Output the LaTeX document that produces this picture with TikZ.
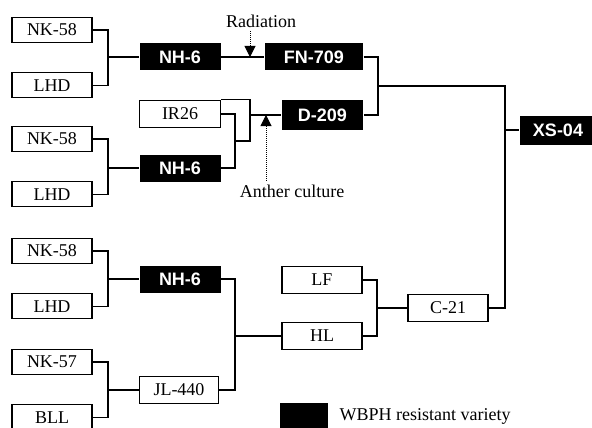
\documentclass[tikz,border=0pt]{standalone}
\usepackage{fontspec}
\setmainfont{Liberation Serif}
\newfontfamily\boxfont{Liberation Sans}
\usepackage{tikz}
\usetikzlibrary{arrows.meta, positioning, calc}

\begin{document}
\begin{tikzpicture}[x=1pt, y=-1pt, font=\fontsize{18}{20}\selectfont, node distance=29pt, line width=1.3pt,
  plain/.style={draw, fill=white, minimum width=80pt, minimum height=25pt, inner sep=0pt},
  resist/.style={fill=black, text=white, minimum width=81pt, minimum height=27pt, inner sep=0pt,
    font=\boxfont\bfseries\fontsize{18}{20}\selectfont},
  treat/.style={densely dotted, line width=1pt, -{Triangle[width=11pt,length=11pt]}}]
\useasboundingbox (0,0) rectangle (592,428);
% parents
\node[plain] (nkA) at (52,30) {NK-58};
\node[plain, below=of nkA] (lhdA) {LHD};
\node[plain] (nkB) at (52,139) {NK-58};
\node[plain, below=of nkB] (lhdB) {LHD};
\node[plain] (nkC) at (52,251) {NK-58};
\node[plain, below=of nkC] (lhdC) {LHD};
\node[plain] (nkD) at (52,362) {NK-57};
\node[plain, below=of nkD] (bll) {BLL};
% first crosses
\node[resist] (nhA) at (180,57) {NH-6};
\node[plain, minimum width=81pt, minimum height=27pt] (ir) at (180,114) {IR26};
\node[resist] (nhB) at (180,168) {NH-6};
\node[resist] (nhC) at (180,279) {NH-6};
\node[plain, minimum width=79pt, minimum height=27pt] (jl) at (179,390) {JL-440};
% derived lines
\node[resist, minimum width=98pt] (fn) at (314,57) {FN-709};
\node[resist, minimum height=29pt] (dd) at (322.5,115) {D-209};
\node[plain, minimum height=27pt] (lf) at (322,280) {LF};
\node[plain, minimum height=27pt] (hl) at (322,336) {HL};
\node[plain, minimum height=27pt] (cc) at (448,308) {C-21};
\node[resist, minimum width=76pt, minimum height=29pt] (xs) at (558,130) {XS-04};
% treatments
\node (rad) at (261,21) {Radiation};
\node (anther) at (292,191) {Anther culture};
\coordinate (rtip) at (250,57);
\coordinate (atip) at (266,115);
% legend
\node[resist, minimum width=48pt, minimum height=27pt] (key) at (304,416) {};
\node[right=7pt of key] (keytext) {WBPH resistant variety};

\coordinate (jA) at (108,57);
\coordinate (jB) at (108,168);
\coordinate (jC) at (108,279);
\coordinate (jD) at (108,390);
\coordinate (jE) at (235,141);
\coordinate (kE) at (250,141);
\coordinate (jF) at (235,336);
\coordinate (jG) at (377,308);
\coordinate (jH) at (378,86);
\coordinate (jX) at (505,130);

\draw (nkA.east) -| (jA) |- (lhdA.east);
\draw (jA) -- (nhA.west);
\draw (nkB.east) -| (jB) |- (lhdB.east);
\draw (jB) -- (nhB.west);
\draw (nkC.east) -| (jC) |- (lhdC.east);
\draw (jC) -- (nhC.west);
\draw (nkD.east) -| (jD) |- (bll.east);
\draw (jD) -- (jl.west);
\draw (nhA.east) -- (fn.west);
\draw (ir.east) -| (jE) |- (nhB.east);
\draw (jE) -- (kE) |- (ir.north east);
\draw (kE |- dd.west) -- (dd.west);
\draw (nhC.east) -| (jF) |- (jl.east);
\draw (jF) -- (hl.west);
\draw (lf.east) -| (jG) |- (hl.east);
\draw (jG) -- (cc.west);
\draw (fn.east) -| (jH) |- (dd.east);
\draw (jH) -| (jX) |- (cc.east);
\draw (jX) -- (xs.west);
\draw[treat] (rad.south -| rtip) -- (rtip);
\draw[treat] (anther.north -| atip) -- (atip);
\end{tikzpicture}
\end{document}
